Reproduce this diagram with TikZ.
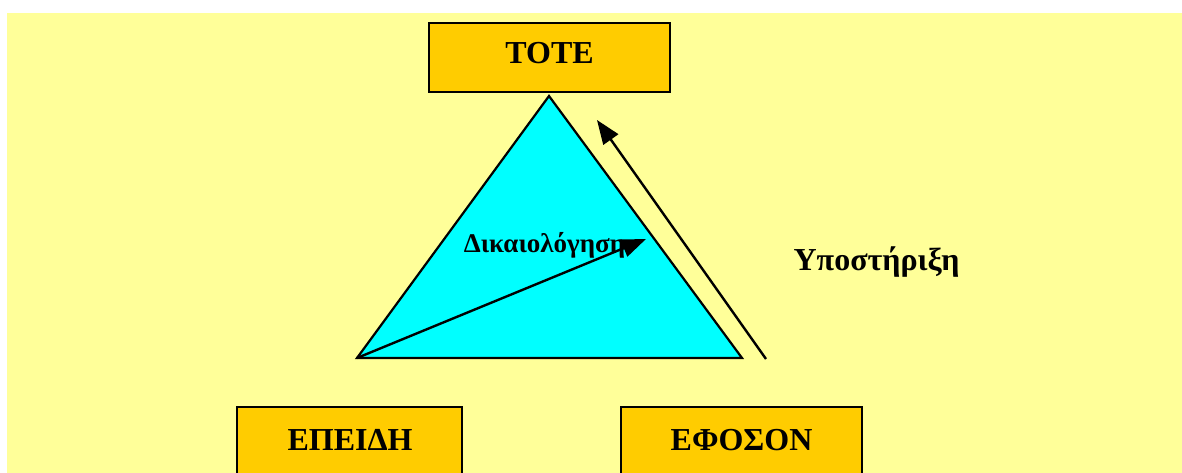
\documentclass[tikz,border=0pt]{standalone}
\usepackage{fontspec}
\setmainfont{Liberation Serif}
\usetikzlibrary{arrows.meta}
\definecolor{bgyellow}{HTML}{FFFF99}
\definecolor{boxorange}{HTML}{FFCC00}
\definecolor{tricyan}{HTML}{00FFFF}
\tikzset{
  lbox/.style={draw=black, line width=2.2pt, fill=boxorange},
  lbl/.style={font=\bfseries\fontsize{32}{36}\selectfont, anchor=base, inner sep=0pt},
  arr/.style={line width=2.4pt, -{Triangle[length=24pt,width=18pt]}},
}
\begin{document}
\begin{tikzpicture}[x=1pt,y=-1pt]
\useasboundingbox (0,0) rectangle (1182,473);
\clip (0,0) rectangle (1182,473);
\fill[bgyellow] (7,13) rectangle (1182,473);
% boxes
\draw[lbox] (429,23) rectangle (670,92);
\draw[lbox] (237,407) rectangle (462,490);
\draw[lbox] (621,407) rectangle (862,490);
\node[lbl] (tote) at (549.5,64) {ΤΟΤΕ};
\node[lbl] (epeidi) at (350,450) {ΕΠΕΙΔΗ};
\node[lbl] (efoson) at (741.5,450) {ΕΦΟΣΟΝ};
% triangle
\coordinate (A) at (549,96);
\coordinate (B) at (357,358);
\coordinate (C) at (742,358);
\draw[fill=tricyan, line width=2.2pt, line join=miter] (A) -- (B) -- (C) -- cycle;
\node[font=\bfseries\fontsize{27}{31}\selectfont, anchor=base, inner sep=0pt] (dik) at (544.5,252) {Δικαιολόγηση};
\coordinate (J) at (646,239);
\draw[arr] (B) -- (J);
% support arrow
\coordinate (S1) at (766,359);
\coordinate (S2) at (597,120);
\draw[arr] (S1) -- (S2);
\node[font=\bfseries\fontsize{32}{36}\selectfont, anchor=base, inner sep=0pt] (ypo) at (876.5,270) {Υποστήριξη};
\end{tikzpicture}
\end{document}
